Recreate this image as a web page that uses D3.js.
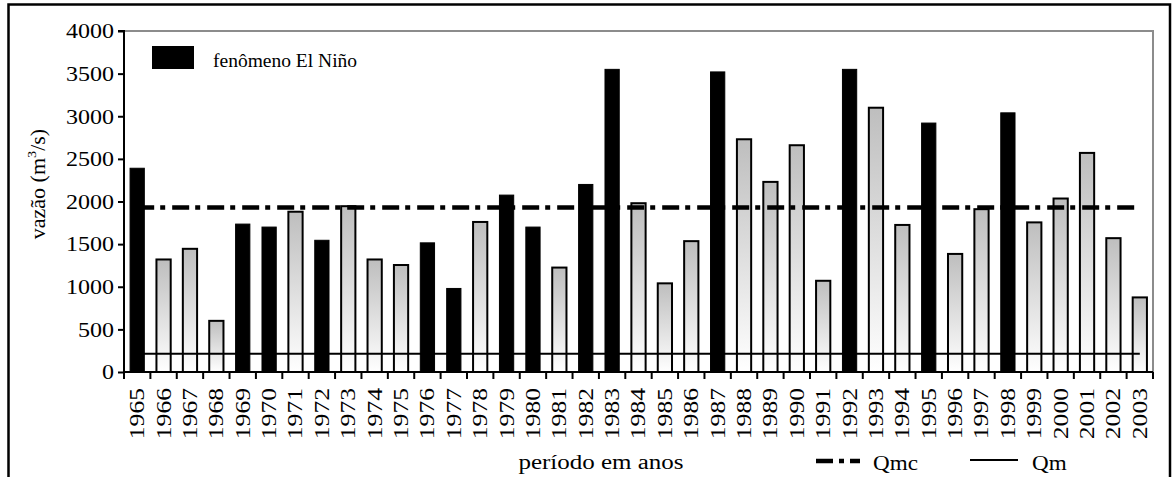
<!DOCTYPE html>
<html>
<head>
<meta charset="utf-8">
<script src="https://cdn.jsdelivr.net/npm/d3@7"></script>
<style>
  html, body { margin: 0; padding: 0; background: #fff; }
  svg { display: block; font-family: "Liberation Serif", "Times New Roman", serif; }
</style>
</head>
<body>
<svg id="chart" width="1172" height="477"></svg>
<script>
const years = [1965,1966,1967,1968,1969,1970,1971,1972,1973,1974,1975,1976,1977,1978,1979,1980,1981,1982,1983,1984,1985,1986,1987,1988,1989,1990,1991,1992,1993,1994,1995,1996,1997,1998,1999,2000,2001,2002,2003];
const flows = [2390,1320,1445,600,1735,1700,1880,1545,1945,1320,1255,1515,980,1760,2075,1700,1225,2200,3550,1980,1040,1535,3520,2730,2230,2660,1070,3550,3100,1725,2920,1385,1910,3040,1755,2035,2570,1570,875];
const elNinoYears = [1965,1969,1970,1972,1976,1977,1979,1980,1982,1983,1987,1992,1995,1998];
const qmcValue = 1930;
const qmValue = 215;
const yTicks = [0,500,1000,1500,2000,2500,3000,3500,4000];

const svg = d3.select("#chart");
const mLeft = 124, mRight = 1153, mTop = 31, mBottom = 372;
const stretchY = 1.2, stretchX = 1.25;

// outer frame
svg.append("rect").attr("x", 8.5).attr("y", 4.5).attr("width", 1161.5).attr("height", 480)
  .attr("fill", "none").attr("stroke", "#000").attr("stroke-width", 2.5);

const defs = svg.append("defs");
const grad = defs.append("linearGradient").attr("id", "gbar").attr("x1", 0).attr("y1", 0).attr("x2", 0).attr("y2", 1);
grad.append("stop").attr("offset", "0%").attr("stop-color", "#bebebe");
grad.append("stop").attr("offset", "100%").attr("stop-color", "#ffffff");

const x = d3.scaleBand().domain(years).range([mLeft, mRight]).paddingInner(0).paddingOuter(0);
const y = d3.scaleLinear().domain([0, 4000]).range([mBottom, mTop]);

// plot area border (gray top/right)
svg.append("path")
  .attr("d", `M${mLeft},${mTop}H${mRight}V${mBottom}`)
  .attr("fill", "none").attr("stroke", "#8c8c8c").attr("stroke-width", 2);

const bw = x.bandwidth() * 0.54;
const data = years.map((yr, i) => ({ yr, v: flows[i], nino: elNinoYears.includes(yr) }));

svg.append("g").selectAll("rect").data(data).join("rect")
  .attr("x", d => x(d.yr) + (x.bandwidth() - bw) / 2)
  .attr("y", d => y(d.v))
  .attr("width", bw)
  .attr("height", d => y(0) - y(d.v))
  .attr("fill", d => d.nino ? "#000" : "url(#gbar)")
  .attr("stroke", "#000")
  .attr("stroke-width", d => d.nino ? 1 : 2);

// Qm & Qmc lines
const lineGen = d3.line().x(d => x(d.yr) + x.bandwidth() / 2).y(d => y(d.v));
svg.append("path")
  .datum(years.map(yr => ({ yr, v: qmValue })))
  .attr("d", lineGen).attr("fill", "none").attr("stroke", "#000").attr("stroke-width", 2);
svg.append("path")
  .datum(years.map(yr => ({ yr, v: qmcValue })))
  .attr("d", lineGen).attr("fill", "none").attr("stroke", "#000").attr("stroke-width", 4.5)
  .attr("stroke-dasharray", "17,6,5,7");

// Y axis
const yAxis = d3.axisLeft(y).tickValues(yTicks).tickSize(6).tickPadding(4).tickFormat(d3.format("d"));
const gy = svg.append("g").attr("transform", `translate(${mLeft},0)`).call(yAxis);
gy.select(".domain").attr("stroke", "#000").attr("stroke-width", 2).attr("d", `M-6,${mTop}H0V${mBottom}`);
gy.selectAll(".tick line").attr("stroke", "#000").attr("stroke-width", 2);
gy.selectAll(".tick text").attr("font-size", 20).attr("fill", "#000")
  .attr("font-family", "Liberation Serif")
  .attr("x", -10 / stretchY).attr("dy", "0.34em")
  .attr("transform", `scale(${stretchY},1)`);

// X axis
const xAxis = d3.axisBottom(x).tickSize(0).tickFormat(d3.format("d"));
const gx = svg.append("g").attr("transform", `translate(0,${mBottom})`).call(xAxis);
gx.select(".domain").attr("stroke", "#000").attr("stroke-width", 2).attr("d", `M${mLeft},0H${mRight}`);
gx.selectAll(".tick text")
  .attr("font-size", 20.5).attr("fill", "#000").attr("font-family", "Liberation Serif")
  .attr("text-anchor", "end")
  .attr("transform", `rotate(-90) scale(${stretchX},1)`)
  .attr("x", -16 / stretchX).attr("y", 0).attr("dy", "0.34em");
// boundary ticks
svg.append("g").selectAll("line").data(years.concat(["end"])).join("line")
  .attr("x1", (d, i) => mLeft + i * x.bandwidth()).attr("x2", (d, i) => mLeft + i * x.bandwidth())
  .attr("y1", mBottom).attr("y2", mBottom + 7)
  .attr("stroke", "#000").attr("stroke-width", 2);

// Axis titles
svg.append("text")
  .attr("transform", "translate(45,184) rotate(-90) scale(1.1,1)")
  .attr("text-anchor", "middle").attr("font-size", 20).attr("fill", "#000")
  .html('vazão (m<tspan dy="-9" font-size="13">3</tspan><tspan dy="9">/s)</tspan>');

svg.append("text").attr("transform", "translate(601,469) scale(1.25,1)").attr("text-anchor", "middle")
  .attr("font-size", 20).attr("fill", "#000").text("período em anos");

// Legend top
svg.append("rect").attr("x", 152).attr("y", 46).attr("width", 42).attr("height", 23).attr("fill", "#000");
svg.append("text").attr("x", 213).attr("y", 67).attr("font-size", 19.5).attr("fill", "#000").text("fenômeno El Niño");

// Legend bottom
svg.append("line").attr("x1", 816).attr("x2", 860).attr("y1", 461).attr("y2", 461)
  .attr("stroke", "#000").attr("stroke-width", 4.5).attr("stroke-dasharray", "17,6,5,6");
svg.append("text").attr("transform", "translate(873,470) scale(1.1,1)").attr("font-size", 21).attr("fill", "#000").text("Qmc");
svg.append("line").attr("x1", 970).attr("x2", 1018).attr("y1", 460).attr("y2", 460)
  .attr("stroke", "#000").attr("stroke-width", 2);
svg.append("text").attr("transform", "translate(1032,470) scale(1.1,1)").attr("font-size", 21).attr("fill", "#000").text("Qm");
</script>
</body>
</html>
